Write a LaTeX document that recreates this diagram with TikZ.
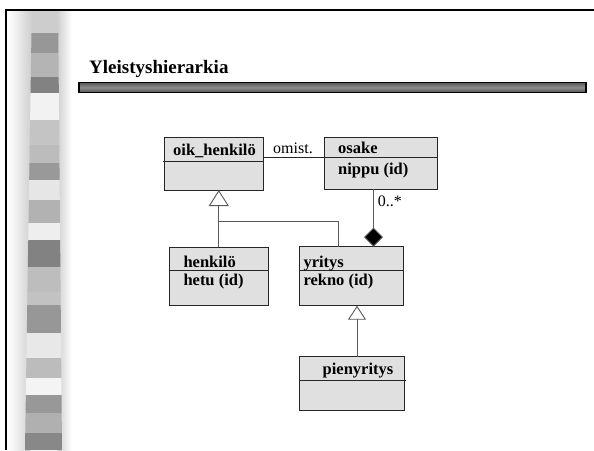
\documentclass[tikz,border=0pt]{standalone}
\usepackage{fontspec}
\setmainfont{Liberation Serif}
\usetikzlibrary{calc,arrows.meta}

\definecolor{boxfill}{HTML}{E0E0E0}
\definecolor{boxline}{HTML}{262626}
\definecolor{connline}{HTML}{5A5A5A}
\definecolor{haze}{HTML}{D2D2D2}
\definecolor{bardark}{HTML}{585858}
\definecolor{barlight}{HTML}{8C8C8C}

\begin{document}
\begin{tikzpicture}[x=1pt,y=-1pt,
  umlbox/.style={draw=boxline, fill=boxfill, line width=0.9pt, inner sep=0pt, outer sep=0pt},
  divider/.style={draw=boxline, line width=0.9pt},
  boxtext/.style={inner sep=0pt, font=\fontsize{16.5}{18}\selectfont\bfseries},
  plaintext/.style={inner sep=0pt, font=\fontsize{16}{18}\selectfont},
  conn/.style={draw=connline, line width=0.9pt},
  genhead/.style={-{Triangle[open, length=#1, width=#1+4pt, line width=0.9pt]}},
  comphead/.style={-{Diamond[length=19pt, width=19pt, fill=black]}}
]
\useasboundingbox (0,0) rectangle (594,450);
\fill[white] (0,0) rectangle (594,450);

% decorative side band: soft haze with a column of grey stripes
\shade[left color=white, right color=haze] (8,9.5) rectangle (30,450);
\fill[haze] (30,9.5) rectangle (58,450);
\shade[left color=haze, right color=white] (58,9.5) rectangle (72,450);
\foreach \ya/\yb/\shadeval in {
  10/33/CDCDCD, 33/53/979797, 53/77/B4B4B4, 77/93/828282, 93/120/F2F2F2,
  120/145/C4C4C4, 145/163/BCBCBC, 163/180/999999, 180/200/E6E6E6,
  200/223/B2B2B2, 223/240/EEEEEE, 240/267/828282, 267/292/BDBDBD,
  292/305/C2C2C2, 305/333/979797, 333/358/E8E8E8, 358/378/BCBCBC,
  378/395/F4F4F4, 395/413/989898, 413/433/B0B0B0, 433/450/888888}{
  \definecolor{stripe}{HTML}{\shadeval}
  \fill[stripe] ({32-7*\ya/450},\ya) -- ({58+4*\ya/450},\ya)
     -- ({58+4*\yb/450},\yb) -- ({32-7*\yb/450},\yb) -- cycle;
}

% slide frame
\draw[line width=2pt] (5.5,450) -- (5.5,9.5) -- (594,9.5);

% heading and rule
\node[inner sep=0pt, anchor=base west, font=\fontsize{19}{22}\selectfont\bfseries] (title) at (89,73.3) {Yleistyshierarkia};
\shade[top color=bardark, bottom color=bardark, middle color=barlight, draw=black, line width=1.1pt] (79,82.5) rectangle (586,92.3);

% classes
\node[umlbox, minimum width=99pt, minimum height=52.7pt] (oik) at (213.5,163.65) {};
\draw[divider] ($(oik.north west)+(-1.5,24.4)$) -- ($(oik.north east)+(0,24.4)$);
\node[boxtext, anchor=base] (oikT) at (214.5,155) {oik\_henkilö};

\node[umlbox, minimum width=113.7pt, minimum height=52pt] (osk) at (380.85,163.3) {};
\draw[divider] ($(osk.north west)+(0,19.7)$) -- ($(osk.north east)+(0,19.7)$);
\node[boxtext, anchor=base west] (oskT) at (338,153) {osake};
\node[boxtext, anchor=base west] (oskA) at (338,174) {nippu (id)};

\node[umlbox, minimum width=99pt, minimum height=57.7pt] (hen) at (218.8,276.15) {};
\draw[divider] ($(hen.north west)+(0,22.7)$) -- ($(hen.north east)+(0,22.7)$);
\node[boxtext, anchor=base west] (henT) at (183.3,267.3) {henkilö};
\node[boxtext, anchor=base west] (henA) at (183.3,285.5) {hetu (id)};

\node[umlbox, minimum width=104.3pt, minimum height=59pt] (yri) at (351.15,276.2) {};
\draw[divider] ($(yri.north west)+(0,24)$) -- ($(yri.north east)+(0,24)$);
\node[boxtext, anchor=base west] (yriT) at (303.3,267) {yritys};
\node[boxtext, anchor=base west] (yriA) at (303.3,285.7) {rekno (id)};

\node[umlbox, minimum width=105.3pt, minimum height=53.3pt] (pien) at (351.65,383.35) {};
\draw[divider] ($(pien.north west)+(0,23.3)$) -- ($(pien.north east)+(1.5,23.3)$);
\node[boxtext, anchor=base] (pienT) at (358,374) {pienyritys};

% association oik_henkilö -- osake
\draw[draw=boxline, line width=0.9pt] ($(oik.north east)+(0,19.7)$) -- ($(osk.north west)+(0,19.7)$);
\node[plaintext, anchor=base west] (assocT) at (273,153.3) {omist.};

% generalisation: henkilö and yritys under oik_henkilö
\coordinate (branch) at ($(hen.north)+(0,-25.6)$);
\draw[conn, genhead=16pt] (hen.north) -- (hen.north |- oik.south);
\draw[conn] (branch) -| ($(yri.north west)+(39.3,0)$);

% composition: osake parts inside yritys
\draw[conn, comphead] ($(osk.south west)+(49.5,0)$) -- ($(yri.north west)+(74.5,0)$);
\node[plaintext, anchor=base west] (multT) at (377.7,206.7) {0..*};

% generalisation: pienyritys under yritys
\draw[conn, genhead=14pt] ($(pien.north west)+(58,0)$) -- ($(yri.south west)+(58,0)$);
\end{tikzpicture}
\end{document}
